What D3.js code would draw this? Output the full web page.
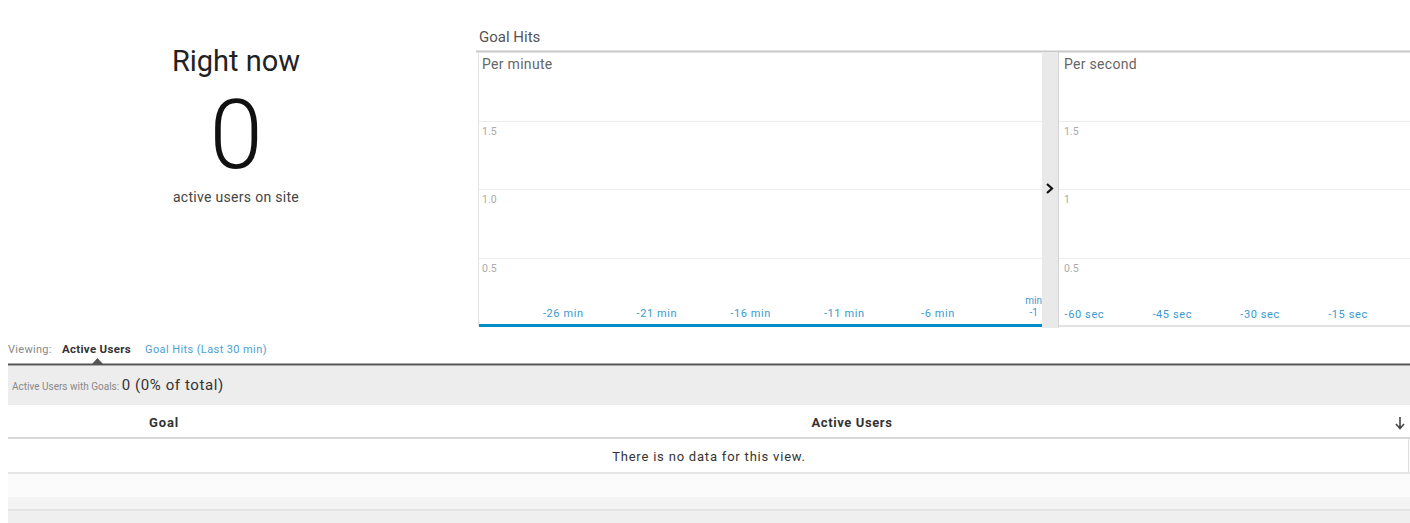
<!DOCTYPE html>
<html>
<head>
<meta charset="utf-8">
<script src="https://cdn.jsdelivr.net/npm/d3@7"></script>
<style>
  html, body { margin: 0; padding: 0; background: #fff; }
  svg { display: block; font-family: Roboto, "Open Sans", sans-serif; }
</style>
</head>
<body>
<div id="target"></div>
<script>
// Data
const activeNow = 0
const minuteCats = [-30,-29,-28,-27,-26,-25,-24,-23,-22,-21,-20,-19,-18,-17,-16,-15,-14,-13,-12,-11,-10,-9,-8,-7,-6,-5,-4,-3,-2,-1]
const minuteHits = [0,0,0,0,0,0,0,0,0,0,0,0,0,0,0,0,0,0,0,0,0,0,0,0,0,0,0,0,0,0]
const minuteTicks = [-26, -21, -16, -11, -6, -1]
const secondCats = [-60,-59,-58,-57,-56,-55,-54,-53,-52,-51,-50,-49,-48,-47,-46,-45,-44,-43,-42,-41,-40,-39,-38,-37,-36,-35,-34,-33,-32,-31,-30,-29,-28,-27,-26,-25,-24,-23,-22,-21,-20,-19,-18,-17,-16,-15,-14,-13,-12,-11,-10,-9,-8,-7,-6,-5,-4,-3,-2,-1]
const secondHits = [0,0,0,0,0,0,0,0,0,0,0,0,0,0,0,0,0,0,0,0,0,0,0,0,0,0,0,0,0,0,0,0,0,0,0,0,0,0,0,0,0,0,0,0,0,0,0,0,0,0,0,0,0,0,0,0,0,0,0,0]
const secondTicks = [-60, -45, -30, -15]
const yTicksMinute = [0.5, 1.0, 1.5]
const yTicksSecond = [0.5, 1, 1.5]
const goalsTotal = 0
const goalsPct = 0

const width = 1410, height = 523
const blue = '#058dc7'
const tickBlue = '#3a9ad0'

const svg = d3.select('#target').append('svg')
    .attr('width', width)
    .attr('height', height)

//Right now block
const left = svg.append('g')
left.append('text').text('Right now')
    .attr('x', 236).attr('y', 71)
    .attr('text-anchor', 'middle')
    .attr('font-size', 29).attr('fill', '#222')
left.append('text').text(activeNow)
    .attr('x', 236).attr('y', 168)
    .attr('text-anchor', 'middle')
    .attr('font-size', 96).attr('font-weight', 300).attr('fill', '#111')
left.append('text').text('active users on site')
    .attr('x', 236).attr('y', 202)
    .attr('text-anchor', 'middle')
    .attr('font-size', 14).attr('letter-spacing', 0.3).attr('fill', '#444')

//Goal Hits header
svg.append('text').text('Goal Hits')
    .attr('x', 479).attr('y', 42)
    .attr('font-size', 15).attr('fill', '#555')
svg.append('line')
    .attr('x1', 476).attr('x2', width).attr('y1', 51.5).attr('y2', 51.5)
    .attr('stroke', '#c8c8c8').attr('stroke-width', 2)

const y = d3.scaleLinear().domain([0, 2]).range([326, 52])

//Per minute chart
const xMin = d3.scaleBand().domain(minuteCats).range([478, 1042]).padding(0.1)
const minG = svg.append('g')

minG.append('line')
    .attr('x1', 478.5).attr('x2', 478.5).attr('y1', 52).attr('y2', 326)
    .attr('stroke', '#e2e2e2')
minG.append('text').text('Per minute')
    .attr('x', 482).attr('y', 69)
    .attr('font-size', 14).attr('letter-spacing', 0.3).attr('fill', '#666')

minG.selectAll('.grid')
    .data(yTicksMinute)
    .enter()
    .append('line')
    .attr('x1', 479).attr('x2', 1042)
    .attr('y1', d => Math.round(y(d)) + 0.5).attr('y2', d => Math.round(y(d)) + 0.5)
    .attr('stroke', '#ececec')
minG.selectAll('.ylab')
    .data(yTicksMinute)
    .enter()
    .append('text')
    .text(d3.format('.1f'))
    .attr('x', 482).attr('y', d => y(d) + 14)
    .attr('font-size', 10.5).attr('fill', '#aaa')

minG.selectAll('.bar')
    .data(minuteHits)
    .enter()
    .append('rect')
    .attr('x', (d, i) => xMin(minuteCats[i]))
    .attr('width', xMin.bandwidth())
    .attr('y', d => y(d))
    .attr('height', d => y(0) - y(d))
    .attr('fill', blue)

minG.selectAll('.xlab')
    .data(minuteTicks.slice(0, -1))
    .enter()
    .append('text')
    .text(d => d + ' min')
    .attr('x', d => xMin(d) + xMin.bandwidth() / 2)
    .attr('y', 317)
    .attr('text-anchor', 'middle')
    .attr('font-size', 11).attr('letter-spacing', 0.6).attr('fill', tickBlue)
//last tick wraps in the narrow end band
const lastMin = minuteTicks[minuteTicks.length - 1]
const lastLab = minG.append('text')
    .attr('text-anchor', 'end')
    .attr('font-size', 10).attr('fill', tickBlue)
lastLab.append('tspan').text('min').attr('x', 1042).attr('y', 304)
lastLab.append('tspan').text(lastMin).attr('x', 1038).attr('y', 316)

minG.append('line')
    .attr('x1', 479).attr('x2', 1042).attr('y1', y(0) - 0.5).attr('y2', y(0) - 0.5)
    .attr('stroke', blue).attr('stroke-width', 3)

//Collapse strip
svg.append('rect')
    .attr('x', 1042).attr('y', 52).attr('width', 16).attr('height', 276)
    .attr('fill', '#e9e9e9')
svg.append('line')
    .attr('x1', 1058.5).attr('x2', 1058.5).attr('y1', 52).attr('y2', 328)
    .attr('stroke', '#d4d4d4')
svg.append('path')
    .attr('d', 'M1047,184 L1052,188.5 L1047,193')
    .attr('fill', 'none').attr('stroke', '#111').attr('stroke-width', 2.2)

//Per second chart
const xSec = d3.scaleBand().domain(secondCats).range([1060, 1412]).padding(0.1)
const secG = svg.append('g')

secG.append('text').text('Per second')
    .attr('x', 1064).attr('y', 69)
    .attr('font-size', 14).attr('letter-spacing', 0.3).attr('fill', '#666')
secG.selectAll('.grid')
    .data(yTicksSecond)
    .enter()
    .append('line')
    .attr('x1', 1059).attr('x2', width)
    .attr('y1', d => Math.round(y(d)) + 0.5).attr('y2', d => Math.round(y(d)) + 0.5)
    .attr('stroke', '#ececec')
secG.selectAll('.ylab')
    .data(yTicksSecond)
    .enter()
    .append('text')
    .text(d => d)
    .attr('x', 1064).attr('y', d => y(d) + 14)
    .attr('font-size', 10.5).attr('fill', '#aaa')

secG.selectAll('.bar')
    .data(secondHits)
    .enter()
    .append('rect')
    .attr('x', (d, i) => xSec(secondCats[i]))
    .attr('width', xSec.bandwidth())
    .attr('y', d => y(d))
    .attr('height', d => y(0) - y(d))
    .attr('fill', blue)

secG.selectAll('.xlab')
    .data(secondTicks)
    .enter()
    .append('text')
    .text(d => d + ' sec')
    .attr('x', d => xSec(d) + 4)
    .attr('y', 318)
    .attr('font-size', 11).attr('letter-spacing', 0.6).attr('fill', tickBlue)
secG.append('line')
    .attr('x1', 1059).attr('x2', width).attr('y1', y(0)).attr('y2', y(0))
    .attr('stroke', '#d8d8d8').attr('stroke-width', 1.5)

//Viewing tabs
const tabs = svg.append('g')
tabs.append('text').text('Viewing:')
    .attr('x', 8).attr('y', 353)
    .attr('font-size', 11).attr('letter-spacing', 0.3).attr('fill', '#888')
tabs.append('text').text('Active Users')
    .attr('x', 62).attr('y', 353)
    .attr('font-size', 11.5).attr('font-weight', 'bold').attr('letter-spacing', 0.3).attr('fill', '#333')
tabs.append('text').text('Goal Hits (Last 30 min)')
    .attr('x', 145).attr('y', 353)
    .attr('font-size', 11).attr('letter-spacing', 0.4).attr('fill', '#4a9fd5')
tabs.append('path')
    .attr('d', 'M92,364 L97.5,358 L103,364 Z')
    .attr('fill', '#555')
tabs.append('line')
    .attr('x1', 8).attr('x2', width).attr('y1', 364.5).attr('y2', 364.5)
    .attr('stroke', '#555').attr('stroke-width', 2)

//Summary bar
svg.append('rect')
    .attr('x', 8).attr('y', 366).attr('width', width - 8).attr('height', 39)
    .attr('fill', '#ededed')
const summary = svg.append('text')
    .attr('x', 12).attr('y', 390)
summary.append('tspan').text('Active Users with Goals: ')
    .attr('font-size', 10).attr('fill', '#888')
summary.append('tspan').text(goalsTotal + ' (' + goalsPct + '% of total)')
    .attr('font-size', 15).attr('letter-spacing', 0.6).attr('fill', '#333')

//Table
const table = svg.append('g')
table.append('rect')
    .attr('x', 8).attr('y', 406).attr('width', 1400).attr('height', 67)
    .attr('fill', '#fff')
table.append('text').text('Goal')
    .attr('x', 164).attr('y', 427)
    .attr('text-anchor', 'middle')
    .attr('font-size', 13).attr('font-weight', 'bold').attr('letter-spacing', 0.8).attr('fill', '#333')
table.append('text').text('Active Users')
    .attr('x', 852).attr('y', 427)
    .attr('text-anchor', 'middle')
    .attr('font-size', 13).attr('font-weight', 'bold').attr('letter-spacing', 0.6).attr('fill', '#333')
table.append('path')
    .attr('d', 'M1400,417 L1400,428 M1396,424 L1400,428.5 L1404,424')
    .attr('fill', 'none').attr('stroke', '#444').attr('stroke-width', 1.6)
table.append('line')
    .attr('x1', 8).attr('x2', width).attr('y1', 438).attr('y2', 438)
    .attr('stroke', '#ccc').attr('stroke-width', 1.5)
table.append('text').text('There is no data for this view.')
    .attr('x', 709).attr('y', 461)
    .attr('text-anchor', 'middle')
    .attr('font-size', 13).attr('letter-spacing', 0.8).attr('fill', '#333')
table.append('line')
    .attr('x1', 8).attr('x2', width).attr('y1', 473).attr('y2', 473)
    .attr('stroke', '#ddd').attr('stroke-width', 1.5)
table.append('line')
    .attr('x1', 1408.5).attr('x2', 1408.5).attr('y1', 438).attr('y2', 473)
    .attr('stroke', '#ddd')
table.append('rect')
    .attr('x', 8).attr('y', 474).attr('width', width - 8).attr('height', 23)
    .attr('fill', '#fbfbfb')
table.append('rect')
    .attr('x', 8).attr('y', 497).attr('width', width - 8).attr('height', 13)
    .attr('fill', '#f3f3f3')
table.append('line')
    .attr('x1', 8).attr('x2', width).attr('y1', 510).attr('y2', 510)
    .attr('stroke', '#ddd').attr('stroke-width', 1.5)
table.append('rect')
    .attr('x', 8).attr('y', 511).attr('width', width - 8).attr('height', 12)
    .attr('fill', '#efefef')
</script>
</body>
</html>
